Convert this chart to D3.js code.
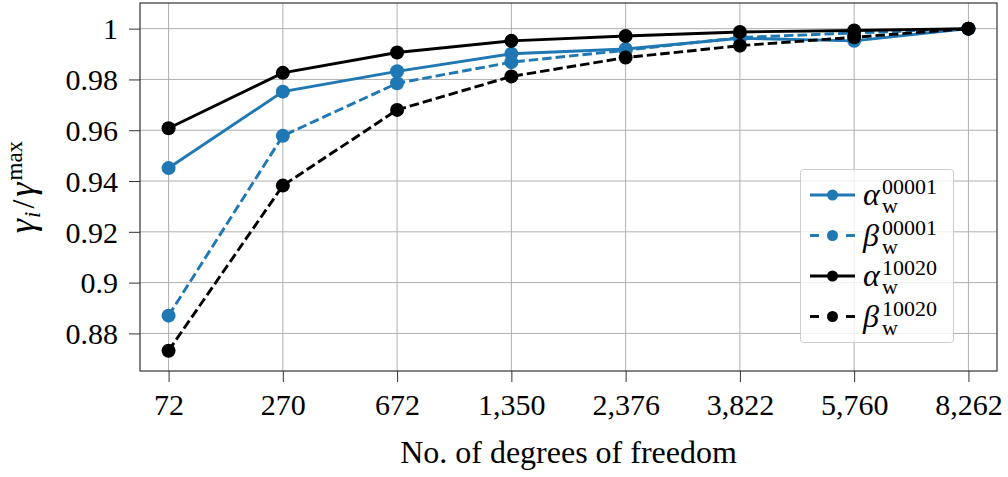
<!DOCTYPE html>
<html>
<head>
<meta charset="utf-8">
<script src="https://cdn.jsdelivr.net/npm/d3@7"></script>
<style>
  body { margin: 0; background: #fff; }
  svg text { font-family: "Liberation Serif", Tinos, "Times New Roman", "Nimbus Roman", "DejaVu Serif", serif; }
</style>
</head>
<body>
<div id="chart"></div>
<script>
// Degrees of freedom (categorical x axis)
const dofLabels = ["72", "270", "672", "1,350", "2,376", "3,822", "5,760", "8,262"];

// Normalised values gamma_i / gamma^max
const alpha00001 = [0.9451, 0.9752, 0.9832, 0.9901, 0.9920, 0.9962, 0.9952, 1.0];
const beta00001 = [0.8870, 0.9578, 0.9785, 0.9868, 0.9915, 0.9965, 0.9983, 1.0];
const alpha10020 = [0.9608, 0.9826, 0.9906, 0.9952, 0.9971, 0.9987, 0.9993, 1.0];
const beta10020 = [0.8732, 0.9382, 0.9680, 0.9812, 0.9886, 0.9933, 0.9966, 1.0];

const yTicks = [0.88, 0.9, 0.92, 0.94, 0.96, 0.98, 1];
const yTickLabels = ["0.88", "0.9", "0.92", "0.94", "0.96", "0.98", "1"];

const series = [
	{ greek: "α", sup: "00001", values: alpha00001, color: "#1f77b4", dashed: false },
	{ greek: "β", sup: "00001", values: beta00001, color: "#1f77b4", dashed: true },
	{ greek: "α", sup: "10020", values: alpha10020, color: "#000000", dashed: false },
	{ greek: "β", sup: "10020", values: beta10020, color: "#000000", dashed: true },
];

const width = 1008;
const height = 477;
const margin = { top: 3, left: 140, right: 11, bottom: 106 };
const plotW = width - margin.left - margin.right;
const plotH = height - margin.top - margin.bottom;
const dash = "9.5,4";
const serif = '"Liberation Serif", Tinos, "Times New Roman", "Nimbus Roman", "DejaVu Serif", serif';

const svg = d3
	.select("#chart")
	.append("svg")
	.attr("width", width)
	.attr("height", height);

const x = d3
	.scalePoint()
	.domain(dofLabels)
	.range([margin.left, margin.left + plotW])
	.padding(0.25);

const y = d3
	.scaleLinear()
	.domain([0.8652, 1.0101])
	.range([margin.top + plotH, margin.top]);

// Grid lines
const grid = svg.append("g").attr("class", "grid");
grid.selectAll(".vgrid")
	.data(dofLabels)
	.join("line")
	.attr("x1", (d) => x(d))
	.attr("x2", (d) => x(d))
	.attr("y1", margin.top)
	.attr("y2", margin.top + plotH)
	.attr("stroke", "#b0b0b0")
	.attr("stroke-width", 1);
grid.selectAll(".hgrid")
	.data(yTicks)
	.join("line")
	.attr("x1", margin.left)
	.attr("x2", margin.left + plotW)
	.attr("y1", (d) => y(d))
	.attr("y2", (d) => y(d))
	.attr("stroke", "#b0b0b0")
	.attr("stroke-width", 1);

// Axes
const xAxis = svg
	.append("g")
	.attr("transform", `translate(0,${margin.top + plotH})`)
	.call(d3.axisBottom(x).tickSize(11).tickPadding(12));
const yAxis = svg
	.append("g")
	.attr("transform", `translate(${margin.left},0)`)
	.call(
		d3
			.axisLeft(y)
			.tickValues(yTicks)
			.tickFormat((d, i) => yTickLabels[i])
			.tickSize(11)
			.tickPadding(11)
	);
[xAxis, yAxis].forEach((ax) => {
	ax.attr("font-family", null);
	ax.select(".domain").remove();
	ax.selectAll(".tick line").attr("stroke", "#333").attr("stroke-width", 1);
	ax.selectAll(".tick text")
		.attr("fill", "#000")
		.style("font-family", serif)
		.style("font-size", "30px");
});
yAxis.selectAll(".tick text").attr("dy", "0.34em");
xAxis.selectAll(".tick text").attr("dy", "0.71em");

// Series lines and markers
const line = d3
	.line()
	.x((d, i) => x(dofLabels[i]))
	.y((d) => y(d));

series.forEach((s) => {
	const g = svg.append("g");
	g.append("path")
		.datum(s.values)
		.attr("fill", "none")
		.attr("stroke", s.color)
		.attr("stroke-width", 2.9)
		.attr("stroke-dasharray", s.dashed ? dash : null)
		.attr("d", line);
	g.selectAll("circle")
		.data(s.values)
		.join("circle")
		.attr("cx", (d, i) => x(dofLabels[i]))
		.attr("cy", (d) => y(d))
		.attr("r", 7)
		.attr("fill", s.color);
});

// Plot frame
svg.append("rect")
	.attr("x", margin.left)
	.attr("y", margin.top)
	.attr("width", plotW)
	.attr("height", plotH)
	.attr("fill", "none")
	.attr("stroke", "#333")
	.attr("stroke-width", 1.2);

// Axis titles
svg.append("text")
	.attr("x", margin.left + plotW / 2)
	.attr("y", 463)
	.attr("text-anchor", "middle")
	.style("font-family", serif)
	.style("font-size", "32px")
	.text("No. of degrees of freedom");

const yTitle = svg
	.append("text")
	.attr("transform", `translate(34,${margin.top + plotH / 2}) rotate(-90)`)
	.attr("text-anchor", "middle")
	.style("font-family", serif)
	.style("font-size", "36px");
yTitle.append("tspan").style("font-style", "italic").text("γ");
yTitle.append("tspan").style("font-style", "italic").style("font-size", "23px").attr("dy", 6).attr("dx", 1).text("i");
yTitle.append("tspan").style("font-size", "32px").attr("dy", -6).attr("dx", 3).text("/");
yTitle.append("tspan").style("font-style", "italic").attr("dx", 3).text("γ");
yTitle.append("tspan").style("font-size", "23px").attr("dy", -12).attr("dx", 2).text("max");

// Legend
const legend = svg.append("g");
legend.append("rect")
	.attr("x", 800.5)
	.attr("y", 169.5)
	.attr("width", 153)
	.attr("height", 173)
	.attr("rx", 3)
	.attr("fill", "rgba(255,255,255,0.8)")
	.attr("stroke", "#cccccc")
	.attr("stroke-width", 1);

series.forEach((s, i) => {
	const yc = 195 + i * 40.5;
	const item = legend.append("g");
	if (s.dashed) {
		item.append("line")
			.attr("x1", 810).attr("x2", 819)
			.attr("y1", yc).attr("y2", yc)
			.attr("stroke", s.color).attr("stroke-width", 2.9);
		item.append("line")
			.attr("x1", 846).attr("x2", 855)
			.attr("y1", yc).attr("y2", yc)
			.attr("stroke", s.color).attr("stroke-width", 2.9);
	} else {
		item.append("line")
			.attr("x1", 810).attr("x2", 855)
			.attr("y1", yc).attr("y2", yc)
			.attr("stroke", s.color).attr("stroke-width", 2.9);
	}
	item.append("circle")
		.attr("cx", 832.5)
		.attr("cy", yc)
		.attr("r", 5.5)
		.attr("fill", s.color);
	// Greek symbol with stacked superscript / subscript in one text element
	const t = item.append("text")
		.attr("x", 863)
		.attr("y", yc + 10)
		.style("font-family", serif);
	t.append("tspan")
		.style("font-size", "32px")
		.style("font-style", "italic")
		.text(s.greek);
	t.append("tspan")
		.attr("x", 882)
		.attr("y", yc - 1)
		.style("font-size", "22px")
		.text(s.sup);
	t.append("tspan")
		.attr("x", 882)
		.attr("y", yc + 18)
		.style("font-size", "22px")
		.text("w");
});
</script>
</body>
</html>
